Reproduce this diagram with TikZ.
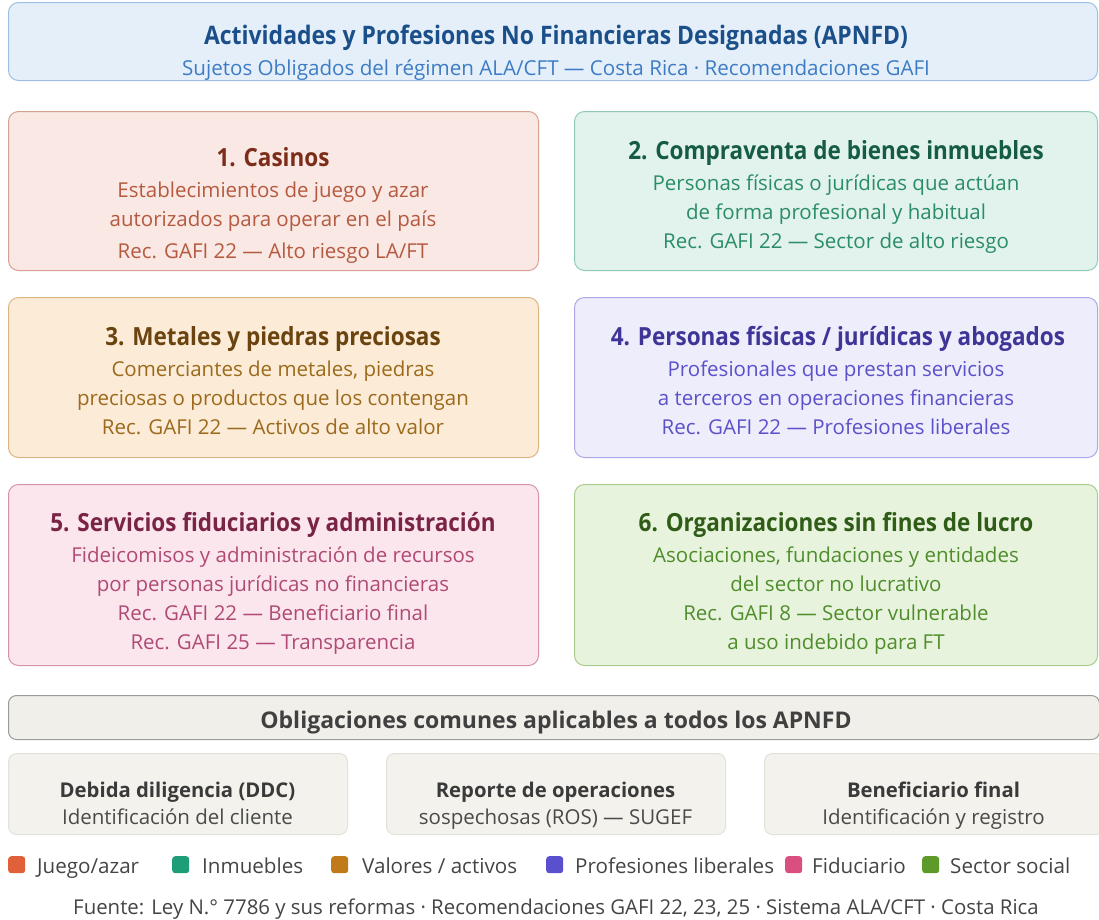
\documentclass[tikz,border=0pt]{standalone}
\usepackage{fontspec}
\setmainfont{Open Sans}[BoldFeatures={FakeStretch=0.9}]
\newfontfamily\plainfam{Open Sans}
\definecolor{hdfill}{HTML}{E5EFFA}\definecolor{hdline}{HTML}{9DBFE3}
\definecolor{hdt}{HTML}{1B4F8A}\definecolor{hds}{HTML}{3D7CC4}
\definecolor{afill}{HTML}{F9E8E3}\definecolor{aline}{HTML}{D9A091}\definecolor{at}{HTML}{7B2D1A}\definecolor{ab}{HTML}{B55A40}
\definecolor{bfill}{HTML}{E1F3EC}\definecolor{bline}{HTML}{8FCBB2}\definecolor{bt}{HTML}{165C45}\definecolor{bb}{HTML}{2B8C68}
\definecolor{cfill}{HTML}{FBEBD7}\definecolor{cline}{HTML}{DDB585}\definecolor{ct}{HTML}{6A430F}\definecolor{cb}{HTML}{9C6A1C}
\definecolor{dfill}{HTML}{EEEDFC}\definecolor{dline}{HTML}{ABA7E8}\definecolor{dt}{HTML}{3E3597}\definecolor{db}{HTML}{5B51C9}
\definecolor{efill}{HTML}{FBE6EE}\definecolor{eline}{HTML}{D692AC}\definecolor{et}{HTML}{7A2445}\definecolor{eb}{HTML}{B04A75}
\definecolor{ffill}{HTML}{E8F3DD}\definecolor{fline}{HTML}{A9CC8C}\definecolor{ft}{HTML}{2F5C16}\definecolor{fb}{HTML}{4F8D2C}
\definecolor{ofill}{HTML}{F1EFE9}\definecolor{oline}{HTML}{9C9A94}\definecolor{ot}{HTML}{404040}
\definecolor{sfill}{HTML}{F3F2ED}\definecolor{sline}{HTML}{E3E1DA}\definecolor{st}{HTML}{3A3A3A}\definecolor{sb}{HTML}{4A4A4A}
\definecolor{lg}{HTML}{444444}
\definecolor{k1}{HTML}{E0603A}\definecolor{k2}{HTML}{1E9E78}\definecolor{k3}{HTML}{C07A1A}
\definecolor{k4}{HTML}{5A4FCF}\definecolor{k5}{HTML}{D94F80}\definecolor{k6}{HTML}{5E9A2A}
\begin{document}
\begin{tikzpicture}[x=1pt,y=-1pt,
  card/.style={rounded corners=10pt, line width=1pt, anchor=north west, inner sep=0pt},
  ttl/.style={font=\fontsize{25}{28}\selectfont\bfseries, inner sep=0pt, anchor=base},
  body/.style={font=\fontsize{20.5}{24}\selectfont, inner sep=0pt, anchor=base},
  stitle/.style={inner sep=0pt, anchor=base, font=\plainfam\fontsize{20.3}{24}\selectfont\bfseries},
  sq/.style={rounded corners=3pt, minimum size=17pt, inner sep=0pt, anchor=north west},
  lab/.style={font=\fontsize{20.6}{24}\selectfont, text=lg, inner sep=0pt, anchor=base west}]
\useasboundingbox (0,0) rectangle (1099,919);
% header
\node[card, fill=hdfill, draw=hdline, minimum width=1089pt, minimum height=78pt] (hd) at (8,2) {};
\node[ttl, text=hdt, font=\fontsize{25.5}{28}\selectfont\bfseries] (hdtitle) at (556,44) {Actividades y Profesiones No Financieras Designadas (APNFD)};
\node[body, text=hds, font=\fontsize{20.6}{24}\selectfont] (hdsub) at (556,75) {Sujetos Obligados del régimen ALA/CFT — Costa Rica · Recomendaciones GAFI};
% box 1
\node[card, fill=afill, draw=aline, minimum width=530pt, minimum height=159pt] (b1) at (8,111) {};
\node[ttl, text=at] (b1a) at (273,166) {1. Casinos};
\node[body, text=ab] (b1b) at (273,197) {Establecimientos de juego y azar};
\node[body, text=ab] (b1c) at (273,226) {autorizados para operar en el país};
\node[body, text=ab] (b1d) at (273,258) {Rec. GAFI 22 — Alto riesgo LA/FT};
% box 2
\node[card, fill=bfill, draw=bline, minimum width=523pt, minimum height=159pt] (b2) at (574,111) {};
\node[ttl, text=bt] (b2a) at (836,159) {2. Compraventa de bienes inmuebles};
\node[body, text=bb] (b2b) at (836,190.5) {Personas físicas o jurídicas que actúan};
\node[body, text=bb] (b2c) at (836,219.5) {de forma profesional y habitual};
\node[body, text=bb] (b2d) at (836,248.5) {Rec. GAFI 22 — Sector de alto riesgo};
% box 3
\node[card, fill=cfill, draw=cline, minimum width=530pt, minimum height=160pt] (b3) at (8,297) {};
\node[ttl, text=ct] (b3a) at (273,345) {3. Metales y piedras preciosas};
\node[body, text=cb] (b3b) at (273,376.5) {Comerciantes de metales, piedras};
\node[body, text=cb] (b3c) at (273,405.5) {preciosas o productos que los contengan};
\node[body, text=cb] (b3d) at (273,434.5) {Rec. GAFI 22 — Activos de alto valor};
% box 4
\node[card, fill=dfill, draw=dline, minimum width=523pt, minimum height=160pt] (b4) at (574,297) {};
\node[ttl, text=dt] (b4a) at (838,345) {4. Personas físicas / jurídicas y abogados};
\node[body, text=db] (b4b) at (836,376.5) {Profesionales que prestan servicios};
\node[body, text=db] (b4c) at (836,405.5) {a terceros en operaciones financieras};
\node[body, text=db] (b4d) at (836,434.5) {Rec. GAFI 22 — Profesiones liberales};
% box 5
\node[card, fill=efill, draw=eline, minimum width=530pt, minimum height=181pt] (b5) at (8,484) {};
\node[ttl, text=et] (b5a) at (273,531) {5. Servicios fiduciarios y administración};
\node[body, text=eb] (b5b) at (273,562.5) {Fideicomisos y administración de recursos};
\node[body, text=eb] (b5c) at (273,591.5) {por personas jurídicas no financieras};
\node[body, text=eb] (b5d) at (273,620.5) {Rec. GAFI 22 — Beneficiario final};
\node[body, text=eb] (b5e) at (273,649.5) {Rec. GAFI 25 — Transparencia};
% box 6
\node[card, fill=ffill, draw=fline, minimum width=523pt, minimum height=181pt] (b6) at (574,484) {};
\node[ttl, text=ft] (b6a) at (836,531) {6. Organizaciones sin fines de lucro};
\node[body, text=fb] (b6b) at (836,562.5) {Asociaciones, fundaciones y entidades};
\node[body, text=fb] (b6c) at (836,591.5) {del sector no lucrativo};
\node[body, text=fb] (b6d) at (836,620.5) {Rec. GAFI 8 — Sector vulnerable};
\node[body, text=fb] (b6e) at (836,649.5) {a uso indebido para FT};
% obligaciones
\node[card, fill=ofill, draw=oline, minimum width=1091pt, minimum height=44pt, rounded corners=8pt] (ob) at (8,695) {};
\node[stitle, text=ot, font=\plainfam\fontsize{23}{26}\selectfont\bfseries] (obt) at (556,728) {Obligaciones comunes aplicables a todos los APNFD};
\node[card, fill=sfill, draw=sline, minimum width=339pt, minimum height=81pt, rounded corners=8pt] (o1) at (8,753) {};
\node[stitle, text=st] (o1a) at (177.5,797) {Debida diligencia (DDC)};
\node[body, text=sb] (o1b) at (177.5,824) {Identificación del cliente};
\node[card, fill=sfill, draw=sline, minimum width=339pt, minimum height=81pt, rounded corners=8pt] (o2) at (386,753) {};
\node[stitle, text=st] (o2a) at (555.5,797) {Reporte de operaciones};
\node[body, text=sb] (o2b) at (555.5,824) {sospechosas (ROS) — SUGEF};
\node[card, fill=sfill, draw=sline, minimum width=339pt, minimum height=81pt, rounded corners=8pt] (o3) at (764,753) {};
\node[stitle, text=st] (o3a) at (933.5,797) {Beneficiario final};
\node[body, text=sb] (o3b) at (933.5,824) {Identificación y registro};
% legend
\node[sq, fill=k1] (l1) at (8,856) {};
\node[lab] (l1t) at (37,873) {Juego/azar};
\node[sq, fill=k2] (l2) at (172,856) {};
\node[lab] (l2t) at (202,873) {Inmuebles};
\node[sq, fill=k3] (l3) at (331,856) {};
\node[lab] (l3t) at (362,873) {Valores / activos};
\node[sq, fill=k4] (l4) at (546,856) {};
\node[lab] (l4t) at (575,873) {Profesiones liberales};
\node[sq, fill=k5] (l5) at (785,856) {};
\node[lab] (l5t) at (812,873) {Fiduciario};
\node[sq, fill=k6] (l6) at (922,856) {};
\node[lab] (l6t) at (950,873) {Sector social};
% footer
\node[body, text=lg, font=\fontsize{20.4}{24}\selectfont] (foot) at (556,914.5) {Fuente: Ley N.° 7786 y sus reformas · Recomendaciones GAFI 22, 23, 25 · Sistema ALA/CFT · Costa Rica};
\end{tikzpicture}
\end{document}
